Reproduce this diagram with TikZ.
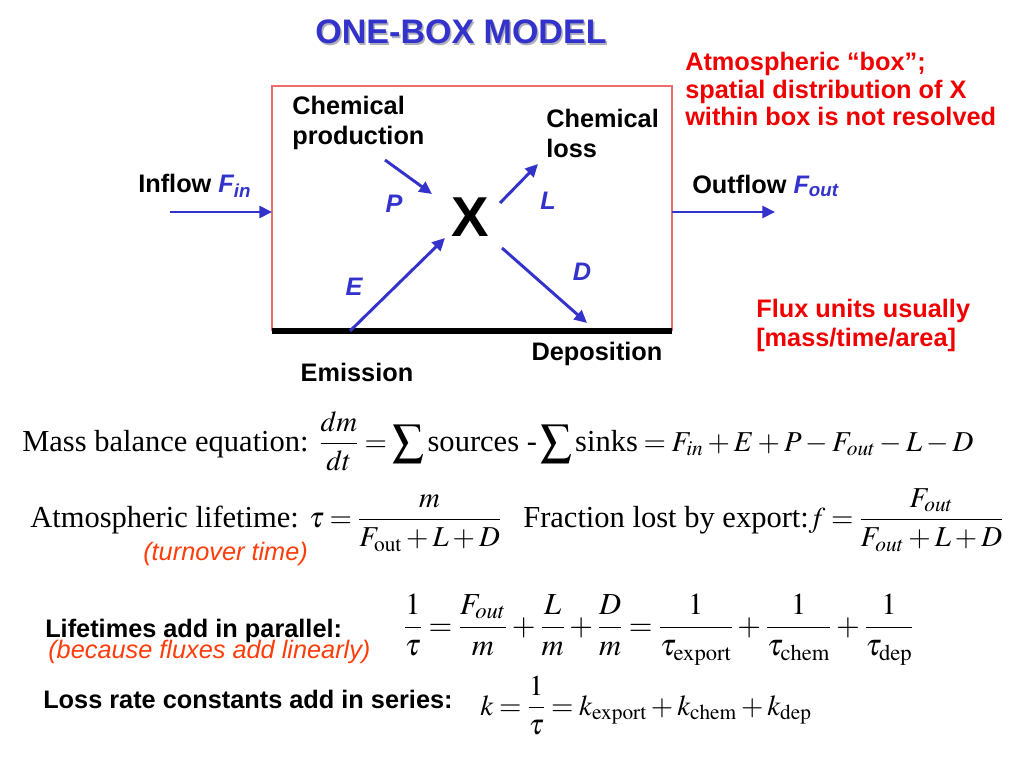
\documentclass[tikz,border=0pt]{standalone}
\usepackage{mathptmx}
\usepackage[no-math]{fontspec}
\setmainfont{Liberation Serif}
\newfontfamily\arialfont{Liberation Sans}
\usetikzlibrary{arrows.meta}

\definecolor{oneblue}{RGB}{51,51,204}
\definecolor{notered}{RGB}{240,0,0}
\definecolor{asidered}{RGB}{255,60,10}
\definecolor{boxred}{RGB}{235,110,110}
\definecolor{shadowgray}{RGB}{175,175,185}

\newcommand{\bigsum}{\mathop{\vcenter{\hbox{\scalebox{1.55}{$\sum$}}}}}
\newcommand{\tightmath}{\medmuskip=2.5mu\relax\thickmuskip=3.5mu\relax\displaystyle}
\newcommand{\eqmath}[1]{{\fontsize{20.5}{25}\selectfont$\tightmath #1$}}
\newcommand{\eqword}[1]{\mbox{\fontsize{21.7}{26}\selectfont #1}}

\tikzset{
  lbl/.style={font=\arialfont\bfseries\fontsize{18}{21.5}\selectfont, inner sep=0pt},
  fluxlbl/.style={font=\arialfont\bfseries\itshape\fontsize{18}{21.5}\selectfont, text=oneblue, inner sep=0pt},
  note/.style={lbl, text=notered, align=left, anchor=north west},
  aside/.style={font=\arialfont\itshape\fontsize{18}{21.5}\selectfont, text=asidered, inner sep=0pt, anchor=west},
  eq/.style={font=\fontsize{21.7}{26}\selectfont, inner sep=0pt, anchor=base west},
  fluxarrow/.style={draw=oneblue, line width=2.1pt, -{Triangle[length=9pt,width=8.5pt]}}
}

\begin{document}
\begin{tikzpicture}[x=0.025cm,y=-0.025cm]
\useasboundingbox (0,0) rectangle (1024,768);

% Title with its shadow
\node[font=\arialfont\bfseries\fontsize{24.2}{29}\selectfont, text=shadowgray] (titleshadow) at (462.5,33.5) {ONE-BOX MODEL};
\node[font=\arialfont\bfseries\fontsize{24.2}{29}\selectfont, text=oneblue] (title) at (461,32) {ONE-BOX MODEL};

% Define the corners of the box
\coordinate (SW) at (272,331);
\coordinate (SE) at (672,331);
\coordinate (NW) at (272,86);
\coordinate (NE) at (672,86);

% Draw the box and its ground line
\draw[boxred, line width=0.8pt] (SW) -- (NW) -- (NE) -- (SE);
\draw[line width=3.6pt] (SW) -- (SE);

% Define the ends of the flux arrows
\coordinate (in0) at (170,212);
\coordinate (in1) at (272,212);
\coordinate (out0) at (672,212);
\coordinate (out1) at (775,212);
\coordinate (P0) at (385,160);
\coordinate (P1) at (432,194);
\coordinate (L0) at (500,203);
\coordinate (L1) at (538,164);
\coordinate (E0) at (350,331);
\coordinate (E1) at (445,238);
\coordinate (D0) at (502,248);
\coordinate (D1) at (587,323);

% Draw the flux arrows
\draw[fluxarrow] (in0) -- (in1);
\draw[fluxarrow] (out0) -- (out1);
\draw[fluxarrow] (P0) -- (P1);
\draw[fluxarrow] (L0) -- (L1);
\draw[fluxarrow] (E0) -- (E1);
\draw[fluxarrow] (D0) -- (D1);

% The species in the box
\node[font=\arialfont\bfseries\fontsize{40}{48}\selectfont, inner sep=0pt] (X) at (470,217) {X};

% Label the fluxes
\node[fluxlbl] (P) at (394,204) {P};
\node[fluxlbl] (L) at (548,201) {L};
\node[fluxlbl] (E) at (354,287) {E};
\node[fluxlbl] (D) at (582,272) {D};

% Label the processes
\node[lbl, align=left, anchor=north west] (chemprod) at (292,96) {Chemical\\production};
\node[lbl, align=left, anchor=north west] (chemloss) at (546,109) {Chemical\\loss};
\node[lbl, anchor=west] (inflow) at (138,186) {Inflow \textcolor{oneblue}{\itshape F\textsubscript{in}}};
\node[lbl, anchor=west] (outflow) at (692,186) {Outflow \textcolor{oneblue}{\itshape F\textsubscript{out}}};
\node[lbl] (emission) at (357,372) {Emission};
\node[lbl] (deposition) at (597,354) {Deposition};

% Notes on the right
\node[note, font=\arialfont\bfseries\fontsize{18}{19.6}\selectfont] (boxnote) at (685,52) {Atmospheric “box”;\\spatial distribution of X\\within box is not resolved};
\node[note, font=\arialfont\bfseries\fontsize{18}{20.6}\selectfont] (unitnote) at (756,299) {Flux units usually\\{}[mass/time/area]};

% Mass balance equation
\node[eq] (massbal) at (22,451) {Mass balance equation: \eqmath{\frac{dm}{dt}=\bigsum\eqword{sources -}\bigsum\eqword{sinks}=F_{in}+E+P-F_{out}-L-D}};

% Lifetime and export fraction
\node[eq] (lifetime) at (30,527) {Atmospheric lifetime: \eqmath{\tau=\frac{m}{F_{\mathrm{out}}+L+D}}};
\node[aside] (turnover) at (143,554) {(turnover time)};
\node[eq] (export) at (523,527) {Fraction lost by export:\eqmath{f=\frac{F_{out}}{F_{out}+L+D}}};

% Lifetimes in parallel
\node[lbl, anchor=base west] (parallel) at (45,637) {Lifetimes add in parallel:};
\node[aside, anchor=base west] (linearly) at (48,658) {(because fluxes add linearly)};
\node[eq] (paralleleq) at (403,635) {$\tightmath\frac{1}{\tau}=\frac{F_{out}}{m}+\frac{L}{m}+\frac{D}{m}=\frac{1}{\tau_{\mathrm{export}}}+\frac{1}{\tau_{\mathrm{chem}}}+\frac{1}{\tau_{\mathrm{dep}}}$};

% Rate constants in series
\node[lbl, anchor=base west] (series) at (43,708) {Loss rate constants add in series:};
\node[eq] (serieseq) at (480,715) {\eqmath{k=\frac{1}{\tau}=k_{\mathrm{export}}+k_{\mathrm{chem}}+k_{\mathrm{dep}}}};

\end{tikzpicture}
\end{document}
